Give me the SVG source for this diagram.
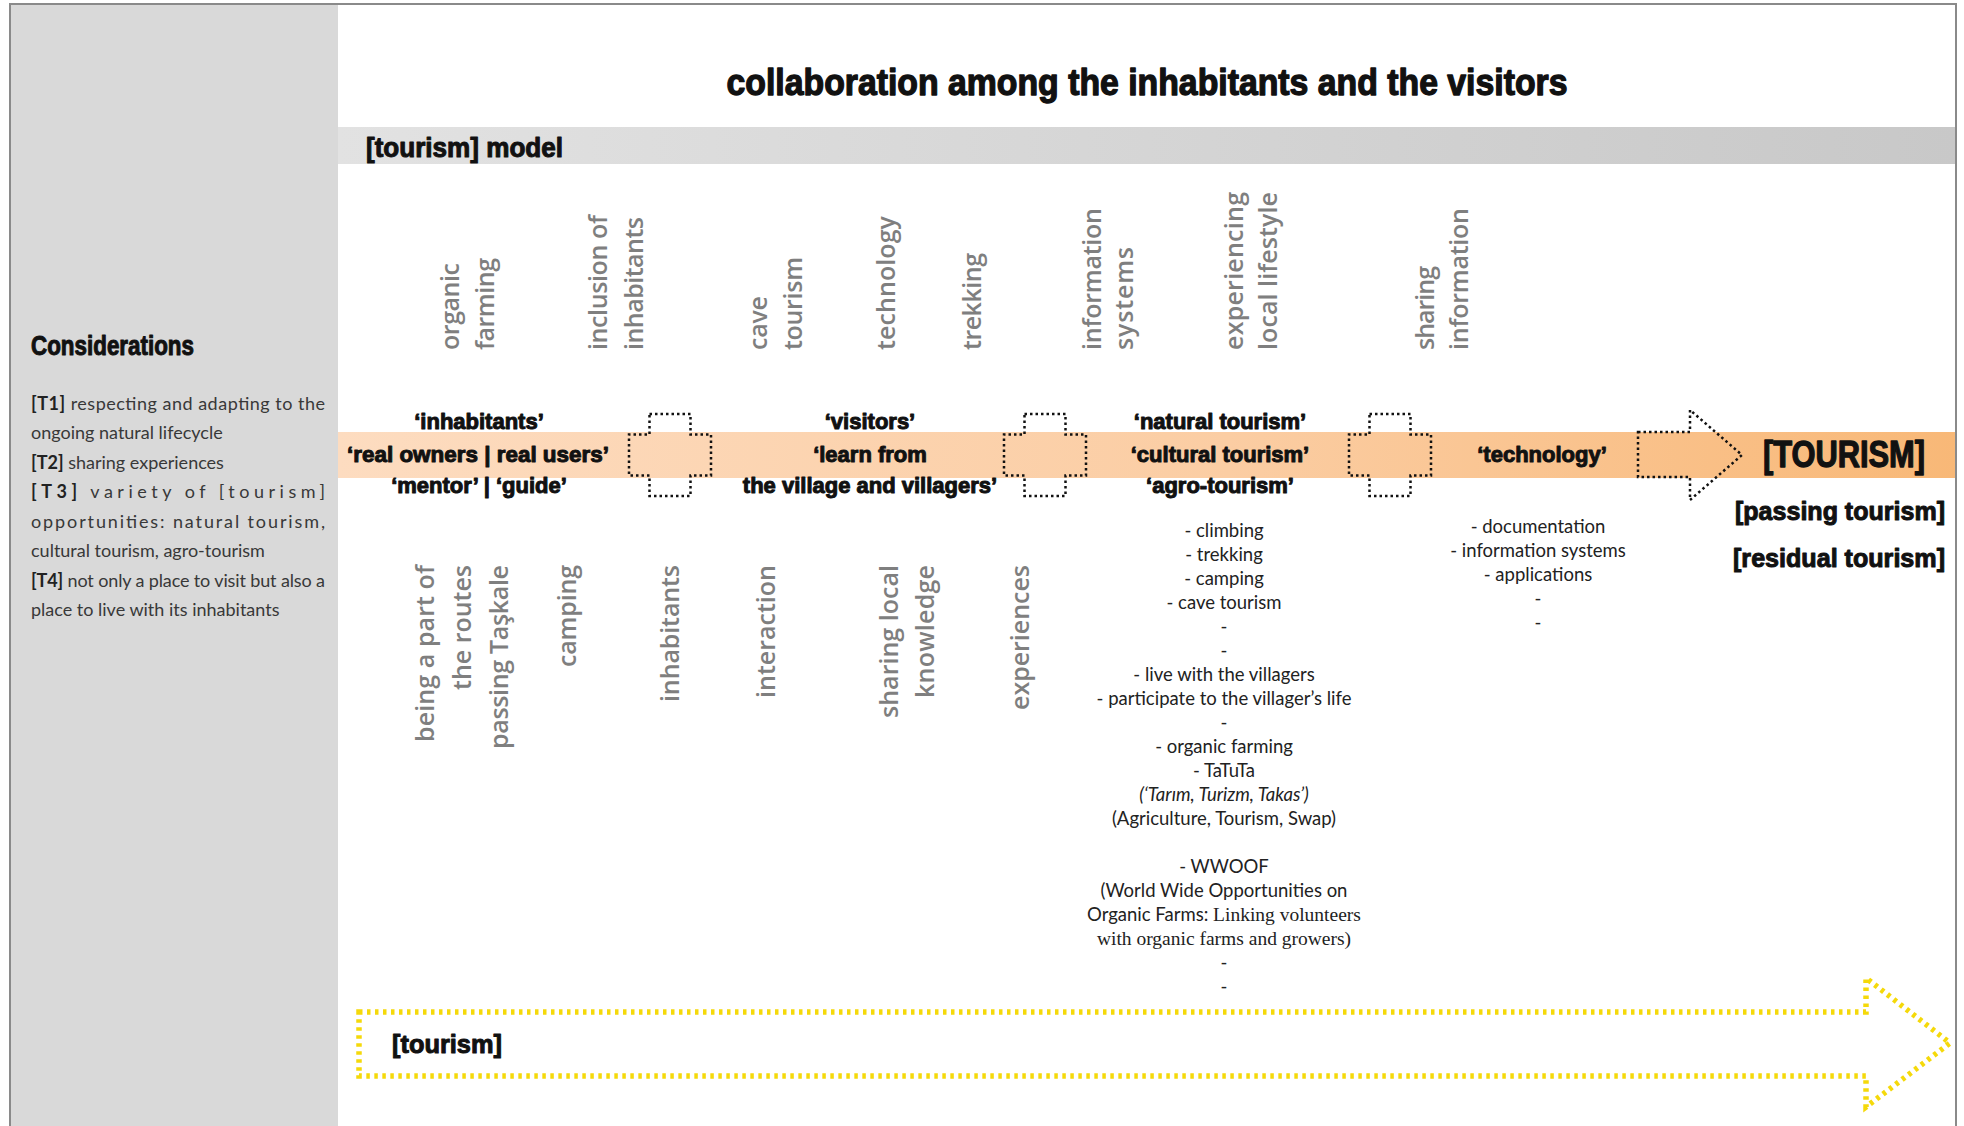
<svg xmlns="http://www.w3.org/2000/svg" xmlns:xlink="http://www.w3.org/1999/xlink" width="1964" height="1126" viewBox="0 0 1964 1126">
<defs>
<linearGradient id="bandGrad" x1="338" y1="0" x2="1956" y2="0" gradientUnits="userSpaceOnUse">
<stop offset="0" stop-color="#fddcc0"/>
<stop offset="0.55" stop-color="#fbcda3"/>
<stop offset="1" stop-color="#f8b877"/>
</linearGradient>
<linearGradient id="greyGrad" x1="338" y1="0" x2="1956" y2="0" gradientUnits="userSpaceOnUse">
<stop offset="0" stop-color="#e2e2e2"/>
<stop offset="1" stop-color="#c8c8c8"/>
</linearGradient>
<path id="cross" d="M-20.5,-41 H20.5 V-20.5 H41 V20.5 H20.5 V41 H-20.5 V20.5 H-41 V-20.5 H-20.5 Z"/>
<style>
.heavy{font-family:"Liberation Sans",Arial,sans-serif;font-weight:bold;fill:#111;stroke:#111;stroke-width:1;stroke-linejoin:round}
.band{font-size:22px;text-anchor:middle}
.grey{font-family:"Open Sans","Noto Sans",sans-serif;font-weight:600;font-size:25px;fill:#7f7f7f}
.body{font-family:Lato,"Open Sans",sans-serif;font-size:18px;fill:#383838}
.b{font-weight:bold;fill:#222}
.list{font-family:Lato,"Open Sans",sans-serif;font-size:18.5px;fill:#222;text-anchor:middle}
.serif{font-family:"Liberation Serif","Times New Roman",serif;font-size:19.5px}
.dot{fill:none;stroke:#111;stroke-width:2.5;stroke-dasharray:2.5 3}
.yel{fill:none;stroke:#f5d90a;stroke-width:5.5;stroke-dasharray:3.5 4.5}
</style>
</defs>

<rect x="0" y="0" width="1964" height="1126" fill="#ffffff"/>
<g id="frame">
<rect x="10" y="4" width="328" height="1122" fill="#d9d9d9"/>
<path d="M10,1126 V4 H1956 V1126" fill="none" stroke="#8a8a8a" stroke-width="2"/>
</g>

<g id="title">
<text class="heavy" x="1147" y="95" font-size="36" text-anchor="middle" textLength="841" lengthAdjust="spacingAndGlyphs" style="stroke-width:1.3">collaboration among the inhabitants and the visitors</text>
</g>

<g id="model-band">
<rect x="338" y="127" width="1617" height="37" fill="url(#greyGrad)"/>
<text class="heavy" x="366" y="157" font-size="27" textLength="197" lengthAdjust="spacingAndGlyphs">[tourism]  model</text>
</g>

<g id="considerations">
<text class="heavy" x="31" y="355" font-size="27" textLength="163" lengthAdjust="spacingAndGlyphs">Considerations</text>
<text class="body" x="31" y="410" textLength="294" lengthAdjust="spacing"><tspan class="b">[T1]</tspan> respecting and adapting to the</text>
<text class="body" x="31" y="439">ongoing natural lifecycle</text>
<text class="body" x="31" y="469"><tspan class="b">[T2]</tspan> sharing experiences</text>
<text class="body" x="31" y="498" textLength="294" lengthAdjust="spacing"><tspan class="b">[T3]</tspan> variety of [tourism]</text>
<text class="body" x="31" y="528" textLength="294" lengthAdjust="spacing">opportunities: natural tourism,</text>
<text class="body" x="31" y="557">cultural tourism, agro-tourism</text>
<text class="body" x="31" y="587" textLength="294" lengthAdjust="spacing"><tspan class="b">[T4]</tspan> not only a place to visit but also a</text>
<text class="body" x="31" y="616">place to live with its inhabitants</text>
</g>

<rect id="orange-band" x="338" y="432" width="1617" height="46" fill="url(#bandGrad)"/>

<g id="stage-inhabitants">
<text class="heavy band" x="479" y="429">‘inhabitants’</text>
<text class="heavy band" x="478" y="462" textLength="262" lengthAdjust="spacingAndGlyphs">‘real owners | real users’</text>
<text class="heavy band" x="479" y="493">‘mentor’ | ‘guide’</text>
<g class="grey">
<text transform="translate(459,350) rotate(-90)" textLength="87">organic</text>
<text transform="translate(494,350) rotate(-90)" textLength="92">farming</text>
<text transform="translate(607,350) rotate(-90)" textLength="135">inclusion of</text>
<text transform="translate(643,350) rotate(-90)" textLength="133">inhabitants</text>
</g>
<g class="grey" text-anchor="end">
<text transform="translate(434,565) rotate(-90)" textLength="177">being a part of</text>
<text transform="translate(471,565) rotate(-90)" textLength="125">the routes</text>
<text transform="translate(508,565) rotate(-90)" textLength="184">passing Taşkale</text>
<text transform="translate(576,565) rotate(-90)" textLength="102">camping</text>
<text transform="translate(679,565) rotate(-90)" textLength="137">inhabitants</text>
</g>
</g>

<g id="stage-visitors">
<text class="heavy band" x="870" y="429">‘visitors’</text>
<text class="heavy band" x="870" y="462">‘learn from</text>
<text class="heavy band" x="870" y="493">the village and villagers’</text>
<g class="grey">
<text transform="translate(767,350) rotate(-90)" textLength="54">cave</text>
<text transform="translate(802,350) rotate(-90)" textLength="93">tourism</text>
<text transform="translate(895,350) rotate(-90)" textLength="134">technology</text>
<text transform="translate(981,350) rotate(-90)" textLength="97">trekking</text>
</g>
<g class="grey" text-anchor="end">
<text transform="translate(775,565) rotate(-90)" textLength="133">interaction</text>
<text transform="translate(898,565) rotate(-90)" textLength="153">sharing local</text>
<text transform="translate(934,565) rotate(-90)" textLength="133">knowledge</text>
<text transform="translate(1029,565) rotate(-90)" textLength="145">experiences</text>
</g>
</g>

<g id="stage-tourism-types">
<text class="heavy band" x="1220" y="429">‘natural tourism’</text>
<text class="heavy band" x="1220" y="462">‘cultural tourism’</text>
<text class="heavy band" x="1220" y="493">‘agro-tourism’</text>
<g class="grey">
<text transform="translate(1101,350) rotate(-90)" textLength="142">information</text>
<text transform="translate(1133,350) rotate(-90)" textLength="103">systems</text>
<text transform="translate(1243,350) rotate(-90)" textLength="158">experiencing</text>
<text transform="translate(1277,350) rotate(-90)" textLength="158">local lifestyle</text>
</g>
<g class="list">
<text x="1224" y="537">- climbing</text>
<text x="1224" y="561">- trekking</text>
<text x="1224" y="585">- camping</text>
<text x="1224" y="609">- cave tourism</text>
<text x="1224" y="633">-</text>
<text x="1224" y="657">-</text>
<text x="1224" y="681">- live with the villagers</text>
<text x="1224" y="705">- participate to the villager’s life</text>
<text x="1224" y="729">-</text>
<text x="1224" y="753">- organic farming</text>
<text x="1224" y="777">- TaTuTa</text>
<text x="1224" y="801" font-style="italic">(‘Tarım, Turizm, Takas’)</text>
<text x="1224" y="825">(Agriculture, Tourism, Swap)</text>
<text x="1224" y="873">- WWOOF</text>
<text x="1224" y="897">(World Wide Opportunities on</text>
<text x="1224" y="921">Organic Farms: <tspan class="serif">Linking volunteers</tspan></text>
<text x="1224" y="945" class="serif">with organic farms and growers)</text>
<text x="1224" y="969">-</text>
<text x="1224" y="993">-</text>
</g>
</g>

<g id="stage-technology">
<text class="heavy band" x="1542" y="462">‘technology’</text>
<g class="grey">
<text transform="translate(1434,350) rotate(-90)" textLength="84">sharing</text>
<text transform="translate(1468,350) rotate(-90)" textLength="142">information</text>
</g>
<g class="list">
<text x="1538" y="533">- documentation</text>
<text x="1538" y="557">- information systems</text>
<text x="1538" y="581">- applications</text>
<text x="1538" y="605">-</text>
<text x="1538" y="629">-</text>
</g>
</g>

<g id="result-tourism">
<text class="heavy" x="1844" y="467" font-size="37" text-anchor="middle" textLength="162" lengthAdjust="spacingAndGlyphs" style="stroke-width:1.3">[TOURISM]</text>
<text class="heavy" x="1840" y="520" font-size="26" text-anchor="middle" textLength="210" lengthAdjust="spacingAndGlyphs">[passing tourism]</text>
<text class="heavy" x="1839" y="567" font-size="26" text-anchor="middle" textLength="212" lengthAdjust="spacingAndGlyphs">[residual tourism]</text>
</g>

<g id="tourism-arrow">
<text class="heavy" x="392" y="1053" font-size="26" textLength="110" lengthAdjust="spacingAndGlyphs">[tourism]</text>
</g>

<g id="connectors">
<use xlink:href="#cross" href="#cross" x="670" y="455" class="dot"/>
<use xlink:href="#cross" href="#cross" x="1045" y="455" class="dot"/>
<use xlink:href="#cross" href="#cross" x="1390" y="455" class="dot"/>
<path class="dot" d="M1638,432 H1690 V410 L1742,455 L1690,500 V477 H1638 Z"/>
<path class="yel" d="M359,1012 H1866 V978 L1950,1043 L1866,1107 V1076 H359 Z"/>
</g>
</svg>
